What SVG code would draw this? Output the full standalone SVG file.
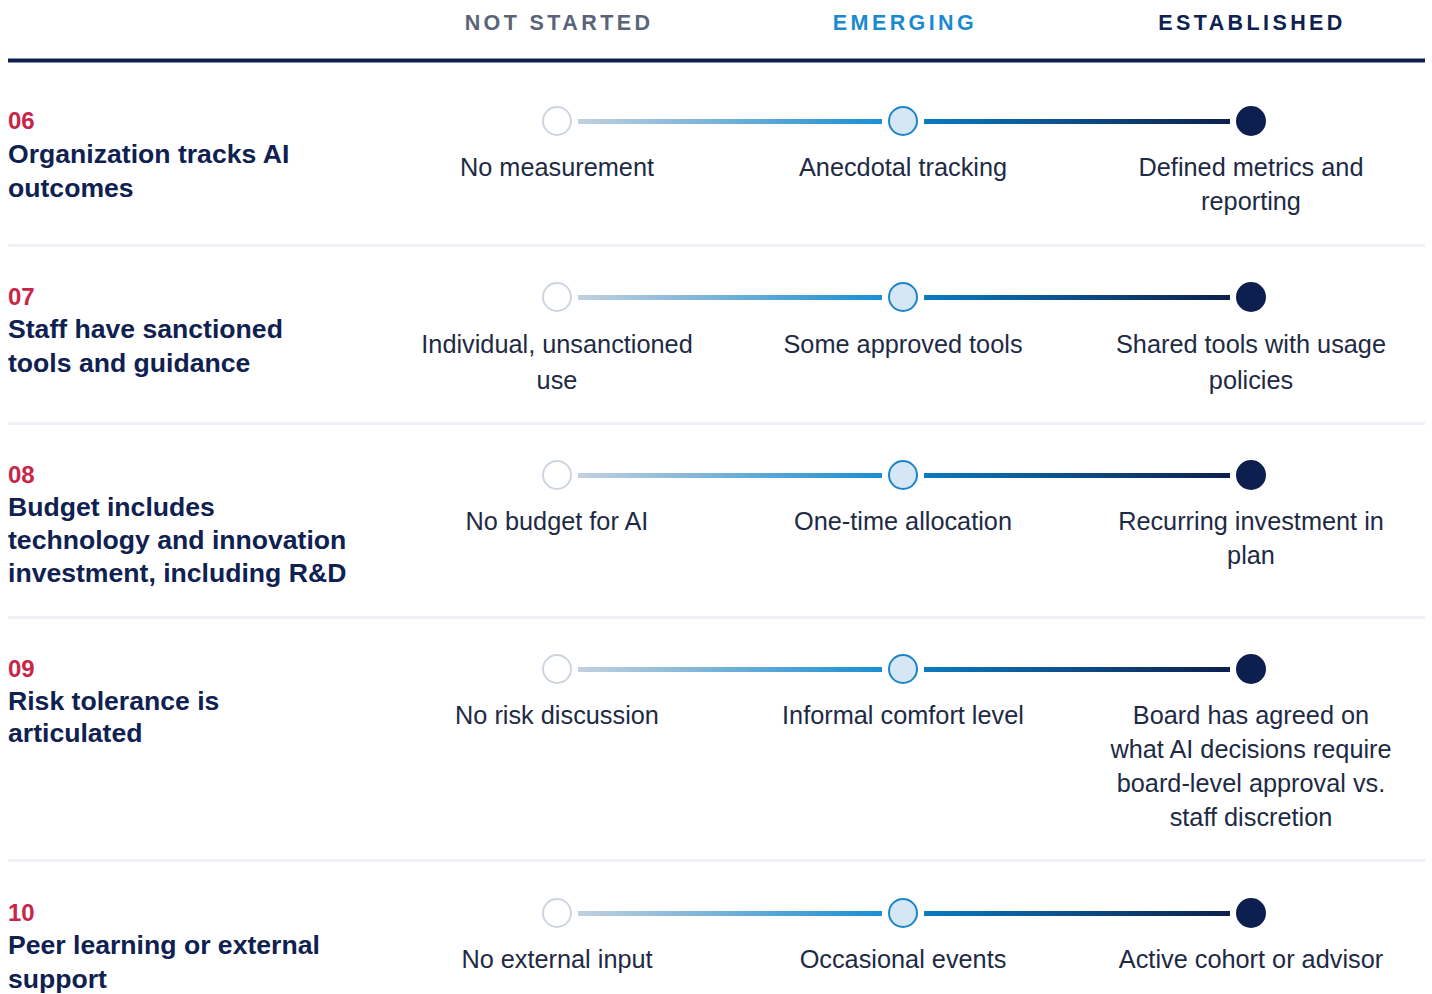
<svg xmlns="http://www.w3.org/2000/svg" width="1432" height="994" viewBox="0 0 1432 994">
<defs>
<linearGradient id="g1" x1="0" y1="0" x2="1" y2="0">
<stop offset="0" stop-color="#c2d0de"/>
<stop offset="1" stop-color="#1a8fd2"/>
</linearGradient>
<linearGradient id="g2" x1="0" y1="0" x2="1" y2="0">
<stop offset="0" stop-color="#0a7bbf"/>
<stop offset="1" stop-color="#0d1f4e"/>
</linearGradient>
<style>
.hd{font-family:"Liberation Sans",Arial,sans-serif;font-weight:bold;font-size:21.5px;letter-spacing:3.4px;text-anchor:middle}
.num{font-family:"Liberation Sans",Arial,sans-serif;font-weight:bold;font-size:24px;fill:#c8254a}
.ttl{font-family:"Liberation Sans",Arial,sans-serif;font-weight:bold;font-size:26.6px;fill:#0f2150}
.dsc{font-family:"Liberation Sans",Arial,sans-serif;font-size:25.3px;fill:#1e2a44;text-anchor:middle}
.sep{fill:#eef2f8}
.c1{fill:#ffffff;stroke:#cdd5e0;stroke-width:2}
.c2{fill:#d6e6f5;stroke:#1a86c8;stroke-width:2}
.c3{fill:#0d1f4e}
</style>
</defs>
<rect width="1432" height="994" fill="#ffffff"/>
<g id="header">
<text class="hd" x="559" y="29.5" fill="#5a6478">NOT STARTED</text>
<text class="hd" x="905" y="29.5" fill="#1a8ad0">EMERGING</text>
<text class="hd" x="1252" y="29.5" fill="#0f2150">ESTABLISHED</text>
<rect x="8" y="58.5" width="1417" height="4" fill="#0d1f4e"/>
</g>
<g id="separators">
<rect class="sep" x="8" y="244" width="1417" height="3"/>
<rect class="sep" x="8" y="422" width="1417" height="3"/>
<rect class="sep" x="8" y="616" width="1417" height="3"/>
<rect class="sep" x="8" y="859" width="1417" height="3"/>
</g>
<g id="connectors">
<rect x="578" y="119" width="304" height="5" fill="url(#g1)"/>
<rect x="924" y="119" width="306" height="5" fill="url(#g2)"/>
<rect x="578" y="295" width="304" height="5" fill="url(#g1)"/>
<rect x="924" y="295" width="306" height="5" fill="url(#g2)"/>
<rect x="578" y="473" width="304" height="5" fill="url(#g1)"/>
<rect x="924" y="473" width="306" height="5" fill="url(#g2)"/>
<rect x="578" y="667" width="304" height="5" fill="url(#g1)"/>
<rect x="924" y="667" width="306" height="5" fill="url(#g2)"/>
<rect x="578" y="911" width="304" height="5" fill="url(#g1)"/>
<rect x="924" y="911" width="306" height="5" fill="url(#g2)"/>
</g>
<g id="row06">
<text class="num" x="8" y="128.5">06</text>
<text class="ttl" x="8" y="163">Organization tracks AI</text>
<text class="ttl" x="8" y="196.5">outcomes</text>
<circle class="c1" cx="557" cy="121" r="14"/>
<circle class="c2" cx="903" cy="121" r="14"/>
<circle class="c3" cx="1251" cy="121" r="15"/>
<text class="dsc" x="557" y="176">No measurement</text>
<text class="dsc" x="903" y="176">Anecdotal tracking</text>
<text class="dsc" x="1251" y="176">Defined metrics and</text>
<text class="dsc" x="1251" y="210">reporting</text>
</g>
<g id="row07">
<text class="num" x="8" y="304.5">07</text>
<text class="ttl" x="8" y="338">Staff have sanctioned</text>
<text class="ttl" x="8" y="372">tools and guidance</text>
<circle class="c1" cx="557" cy="297" r="14"/>
<circle class="c2" cx="903" cy="297" r="14"/>
<circle class="c3" cx="1251" cy="297" r="15"/>
<text class="dsc" x="557" y="352.5">Individual, unsanctioned</text>
<text class="dsc" x="557" y="388.5">use</text>
<text class="dsc" x="903" y="352.5">Some approved tools</text>
<text class="dsc" x="1251" y="352.5">Shared tools with usage</text>
<text class="dsc" x="1251" y="388.5">policies</text>
</g>
<g id="row08">
<text class="num" x="8" y="482.5">08</text>
<text class="ttl" x="8" y="516">Budget includes</text>
<text class="ttl" x="8" y="549">technology and innovation</text>
<text class="ttl" x="8" y="582">investment, including R&amp;D</text>
<circle class="c1" cx="557" cy="475" r="14"/>
<circle class="c2" cx="903" cy="475" r="14"/>
<circle class="c3" cx="1251" cy="475" r="15"/>
<text class="dsc" x="557" y="530">No budget for AI</text>
<text class="dsc" x="903" y="530">One-time allocation</text>
<text class="dsc" x="1251" y="530">Recurring investment in</text>
<text class="dsc" x="1251" y="564">plan</text>
</g>
<g id="row09">
<text class="num" x="8" y="676.5">09</text>
<text class="ttl" x="8" y="710">Risk tolerance is</text>
<text class="ttl" x="8" y="742">articulated</text>
<circle class="c1" cx="557" cy="669" r="14"/>
<circle class="c2" cx="903" cy="669" r="14"/>
<circle class="c3" cx="1251" cy="669" r="15"/>
<text class="dsc" x="557" y="724">No risk discussion</text>
<text class="dsc" x="903" y="724">Informal comfort level</text>
<text class="dsc" x="1251" y="724">Board has agreed on</text>
<text class="dsc" x="1251" y="758">what AI decisions require</text>
<text class="dsc" x="1251" y="792">board-level approval vs.</text>
<text class="dsc" x="1251" y="826">staff discretion</text>
</g>
<g id="row10">
<text class="num" x="8" y="920.5">10</text>
<text class="ttl" x="8" y="954">Peer learning or external</text>
<text class="ttl" x="8" y="988">support</text>
<circle class="c1" cx="557" cy="913" r="14"/>
<circle class="c2" cx="903" cy="913" r="14"/>
<circle class="c3" cx="1251" cy="913" r="15"/>
<text class="dsc" x="557" y="968">No external input</text>
<text class="dsc" x="903" y="968">Occasional events</text>
<text class="dsc" x="1251" y="968">Active cohort or advisor</text>
</g>
</svg>
